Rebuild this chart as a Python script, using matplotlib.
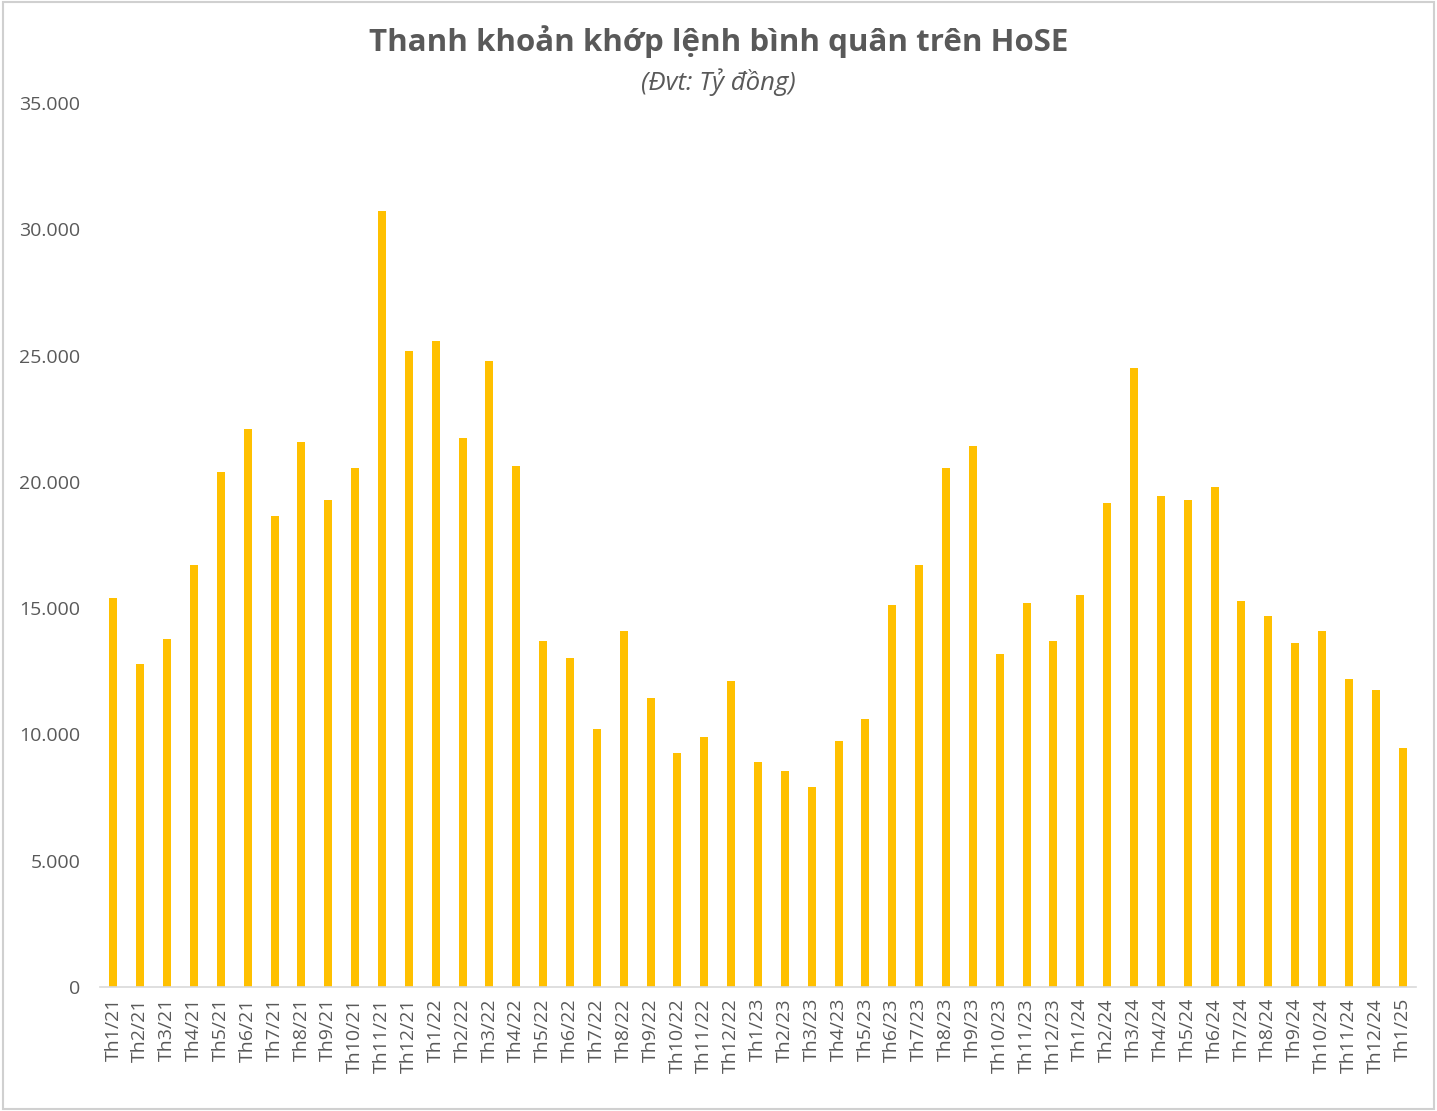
import matplotlib
matplotlib.use("Agg")
import matplotlib.pyplot as plt
from matplotlib.ticker import FuncFormatter, MultipleLocator
from matplotlib.patches import Rectangle

months = ["Th1/21", "Th2/21", "Th3/21", "Th4/21", "Th5/21", "Th6/21", "Th7/21", "Th8/21",
          "Th9/21", "Th10/21", "Th11/21", "Th12/21",
          "Th1/22", "Th2/22", "Th3/22", "Th4/22", "Th5/22", "Th6/22", "Th7/22", "Th8/22",
          "Th9/22", "Th10/22", "Th11/22", "Th12/22",
          "Th1/23", "Th2/23", "Th3/23", "Th4/23", "Th5/23", "Th6/23", "Th7/23", "Th8/23",
          "Th9/23", "Th10/23", "Th11/23", "Th12/23",
          "Th1/24", "Th2/24", "Th3/24", "Th4/24", "Th5/24", "Th6/24", "Th7/24", "Th8/24",
          "Th9/24", "Th10/24", "Th11/24", "Th12/24",
          "Th1/25"]
values = [15400, 12790, 13780, 16710, 20390, 22090, 18650, 21580, 19280, 20550, 30720, 25180,
          25570, 21730, 24780, 20630, 13700, 13020, 10210, 14090, 11440, 9260, 9900, 12110,
          8910, 8550, 7920, 9740, 10610, 15120, 16710, 20550, 21420, 13180, 15200, 13700,
          15520, 19160, 24500, 19440, 19280, 19790, 15280, 14690, 13620, 14090, 12190, 11760,
          9460]

title = "Thanh khoản khớp lệnh bình quân trên HoSE"
subtitle = "(Đvt: Tỷ đồng)"

plt.rcParams['font.family'] = ['Open Sans', 'DejaVu Sans']
grey = "#595959"

fig = plt.figure(figsize=(14.37, 11.11), dpi=100)
ax = fig.add_axes([100/1437, 1-987/1111, (1416-100)/1437, (987-103)/1111])

x = list(range(len(months)))
ax.bar(x, values, width=0.3, color="#FFC000", zorder=2)
ax.set_xlim(-0.5, len(months)-0.5)
ax.set_ylim(0, 35000)
ax.yaxis.set_major_locator(MultipleLocator(5000))
ax.yaxis.set_major_formatter(FuncFormatter(lambda v, p: f"{int(v):,}".replace(",", ".")))
ax.set_xticks(x)
ax.set_xticklabels(months, rotation=90)
for s in ["top", "right", "left"]:
    ax.spines[s].set_visible(False)
ax.spines["bottom"].set_color("#D9D9D9")
ax.spines["bottom"].set_linewidth(1.2)
ax.tick_params(axis="both", length=0, colors=grey, labelsize=14)
ax.tick_params(axis="y", pad=14)
ax.tick_params(axis="x", pad=8)

fig.text(0.5, 1-42/1111, title, ha="center", va="center", fontsize=22.5, fontweight="bold", color=grey)
fig.text(0.5, 1-82/1111, subtitle, ha="center", va="center", fontsize=18.5, style="italic", color=grey)

fig.patches.append(Rectangle((0.002, 0.002), 0.996, 0.996, transform=fig.transFigure,
                             fill=False, edgecolor="#D0D0D0", linewidth=1.5))

fig.savefig("out.png", dpi=100, facecolor="white")
